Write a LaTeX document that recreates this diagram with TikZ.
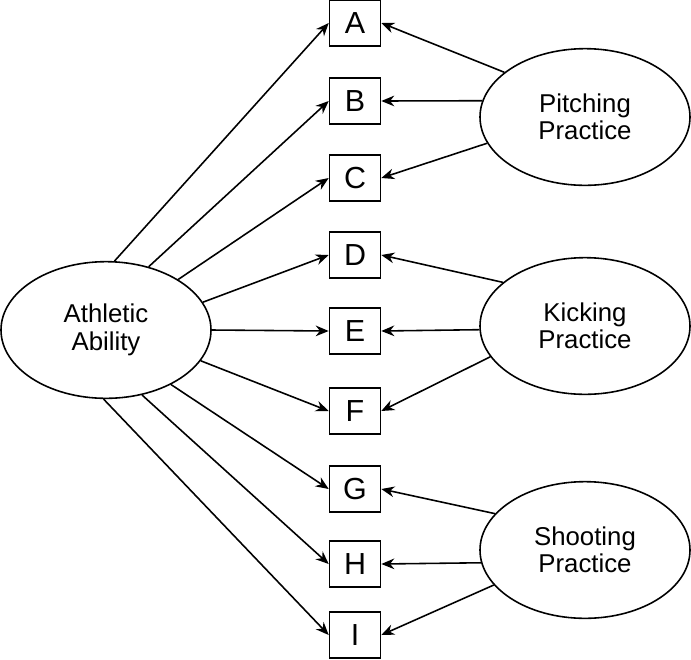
\documentclass[tikz,border=0pt]{standalone}
\usepackage{fontspec}
\setmainfont{Liberation Sans}
\usetikzlibrary{shapes.geometric,arrows.meta}

\begin{document}
\begin{tikzpicture}[x=0.3mm, y=-0.3mm, line width=1.35pt,
    >={Stealth[length=3.9mm,width=3.2mm]},
    item/.style={draw, rectangle, minimum width=15.3mm, minimum height=13.8mm,
                 inner sep=0pt, font=\fontsize{26}{30}\selectfont},
    factor/.style={draw, ellipse, minimum width=63mm, minimum height=41mm,
                   inner sep=0pt, align=center, font=\fontsize{22}{23.5}\selectfont}]
  \useasboundingbox (0,0) rectangle (691,659);

  \node (A) [item] at (355,23)  {A};
  \node (B) [item] at (355,101) {B};
  \node (C) [item] at (355,178) {C};
  \node (D) [item] at (355,255) {D};
  \node (E) [item] at (355,331) {E};
  \node (F) [item] at (355,411) {F};
  \node (G) [item] at (355,489) {G};
  \node (H) [item] at (355,564) {H};
  \node (I) [item] at (355,635) {I};

  \node (ath)   [factor] at (106,330) {Athletic\\Ability};
  \node (pitch) [factor] at (585,117) {Pitching\\Practice};
  \node (kick)  [factor] at (585,326) {Kicking\\Practice};
  \node (shoot) [factor] at (585,550) {Shooting\\Practice};

  \draw[->] (ath.83)   -- (A.west);
  \draw[->] (ath.56)   -- (B.west);
  \draw[->] (ath.35)   -- (C.west);
  \draw[->] (ath.16)   -- (D.west);
  \draw[->] (ath.east) -- (E.west);
  \draw[->] (ath.342)  -- (F.west);
  \draw[->] (ath.320)  -- (G.west);
  \draw[->] (ath.299)  -- (H.west);
  \draw[->] (ath.268)  -- (I.west);

  \draw[->] (pitch.151) -- (A.east);
  \draw[->] (pitch.171) -- (B.east);
  \draw[->] (pitch.195) -- (C.east);
  \draw[->] (kick.152)  -- (D.east);
  \draw[->] (kick.182)  -- (E.east);
  \draw[->] (kick.198)  -- (F.east);
  \draw[->] (shoot.158) -- (G.east);
  \draw[->] (shoot.187) -- (H.east);
  \draw[->] (shoot.201) -- (I.east);
\end{tikzpicture}
\end{document}
